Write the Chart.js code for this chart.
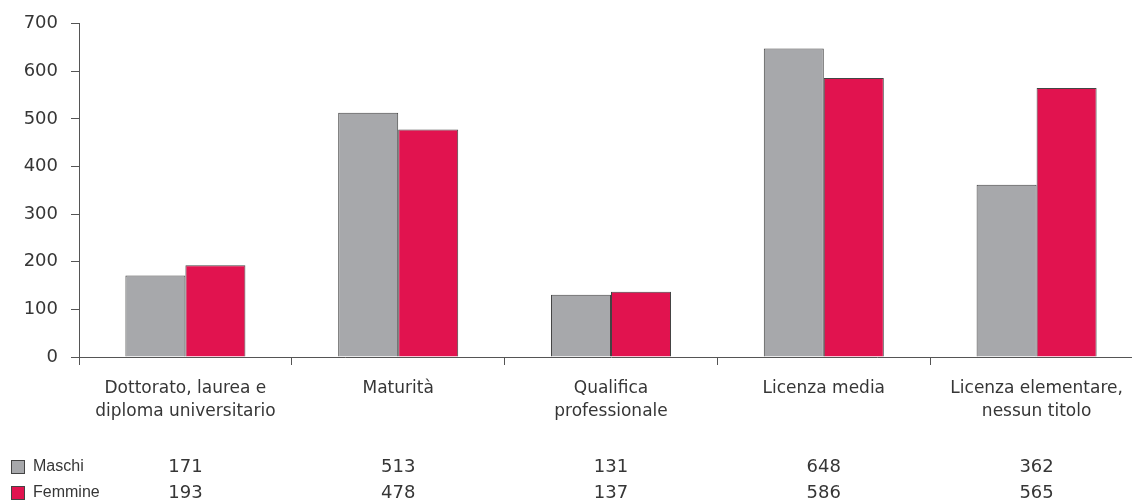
<!DOCTYPE html>
<html>
<head>
<meta charset="utf-8">
<script src="https://cdn.jsdelivr.net/npm/chart.js@4/dist/chart.umd.min.js"></script>
<style>
    html, body { margin: 0; padding: 0; background: #fff; overflow: hidden; }
    #wrap { width: 1150px; height: 503px; }
</style>
</head>
<body>
<div id="wrap"><canvas id="titoli" width="1150" height="503"></canvas></div>
<script>
// Categories (titolo di studio)
const categorie = [
    ['Dottorato, laurea e', 'diploma universitario'],
    ['Maturità'],
    ['Qualifica', 'professionale'],
    ['Licenza media'],
    ['Licenza elementare,', 'nessun titolo']
];

// Series values
const maschi = [171, 513, 131, 648, 362];
const femmine = [193, 478, 137, 586, 565];

const serieNomi = ['Maschi', 'Femmine'];
const coloriSerie = ['#a7a8ab', '#e1134f'];

// Y axis ticks
const yMin = 0;
const yMax = 700;
const yStep = 100;

const testoColore = '#363636';
const assiColore = '#555555';

// Data table under the chart (legend + values)
const tabellaPlugin = {
    id: 'tabella',
    afterDraw(chart) {
        const ctx = chart.ctx;
        const x = chart.scales.x;
        const righe = [maschi, femmine];
        const righeY = [467, 493];
        ctx.save();
        righe.forEach((valori, r) => {
            const y = righeY[r];
            // legend square
            ctx.fillStyle = coloriSerie[r];
            ctx.fillRect(11, y - 7, 14, 14);
            ctx.strokeStyle = '#444';
            ctx.lineWidth = 1;
            ctx.strokeRect(11.5, y - 6.5, 13, 13);
            ctx.fillStyle = testoColore;
            ctx.textBaseline = 'middle';
            ctx.textAlign = 'left';
            ctx.font = '16px "Liberation Sans", Arial, sans-serif';
            ctx.fillText(serieNomi[r], 33, y);
            // values
            ctx.textAlign = 'center';
            ctx.font = '18px "DejaVu Sans", sans-serif';
            valori.forEach((v, i) => {
                ctx.fillText(String(v), x.getPixelForValue(i), y);
            });
        });
        ctx.restore();
    }
};

const chartdata = {
    labels: categorie,
    datasets: [
        {
            label: serieNomi[0],
            data: maschi,
            backgroundColor: coloriSerie[0],
            borderColor: '#444444',
            borderWidth: 1,
            borderSkipped: 'bottom'
        },
        {
            label: serieNomi[1],
            data: femmine,
            backgroundColor: coloriSerie[1],
            borderColor: '#444444',
            borderWidth: 1,
            borderSkipped: 'bottom'
        }
    ]
};

const chartconfig = {
    type: 'bar',
    data: chartdata,
    options: {
        responsive: false,
        animation: false,
        layout: { padding: { top: 21, right: 7, bottom: 0, left: 0 } },
        datasets: {
            bar: { categoryPercentage: 0.564, barPercentage: 1.0 }
        },
        scales: {
            x: {
                afterFit: (scale) => { scale.height = 146; },
                grid: {
                    offset: true,
                    drawOnChartArea: false,
                    drawTicks: true,
                    tickLength: 8,
                    color: assiColore
                },
                border: { display: true, color: assiColore, width: 1 },
                ticks: {
                    color: testoColore,
                    padding: 12,
                    maxRotation: 0,
                    autoSkip: false,
                    font: { family: '"DejaVu Sans", sans-serif', size: 17, lineHeight: 1.35 }
                }
            },
            y: {
                min: yMin,
                max: yMax,
                afterFit: (scale) => { scale.width = 79; },
                grid: {
                    drawOnChartArea: false,
                    drawTicks: true,
                    tickLength: 8,
                    color: assiColore
                },
                border: { display: true, color: assiColore, width: 1 },
                ticks: {
                    stepSize: yStep,
                    color: testoColore,
                    padding: 13,
                    font: { family: '"DejaVu Sans", sans-serif', size: 18 }
                }
            }
        },
        plugins: {
            legend: { display: false },
            tooltip: { enabled: false },
            title: { display: false }
        }
    },
    plugins: [tabellaPlugin]
};

const canvas = document.getElementById('titoli');
if (canvas) {
    new Chart(canvas, chartconfig);
} else {
    console.error('Canvas "titoli" not found');
}
</script>
</body>
</html>
